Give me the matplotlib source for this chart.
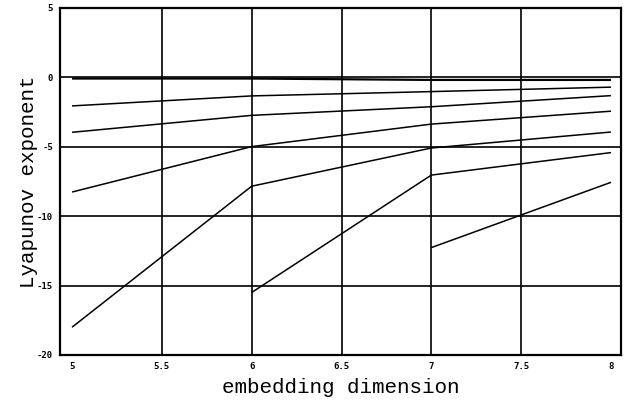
import numpy as np
import matplotlib
matplotlib.use("Agg")
import matplotlib.pyplot as plt

dims = [5, 6, 7, 8]
line_a = [-0.1, -0.1, -0.2, -0.2]
line_b = [-2.07, -1.35, -1.04, -0.72]
line_c = [-3.97, -2.75, -2.13, -1.33]
line_d = [-8.27, -5.0, -3.38, -2.45]
line_e = [-18.0, -7.85, -5.1, -3.95]
line_f = [np.nan, -15.5, -7.05, -5.43]
line_g = [np.nan, np.nan, -12.27, -7.57]
series = [line_a, line_b, line_c, line_d, line_e, line_f, line_g]

xticks = [5, 5.5, 6, 6.5, 7, 7.5, 8]
xticklabels = ["5", "5.5", "6", "6.5", "7", "7.5", "8"]
yticks = [-20, -15, -10, -5, 0, 5]
yticklabels = ["-20", "-15", "-10", "-5", "0", "5"]

fig = plt.figure(figsize=(6.35, 4.05), dpi=100)
ax = fig.add_axes([0.0945, 0.1235, 0.8835, 0.8575])

for i, s in enumerate(series):
    ax.plot(dims, s, color="black", lw=1.6 if i == 0 else 1.1, solid_capstyle="butt")

ax.set_xlim(4.933, 8.056)
ax.set_ylim(-20, 5)
ax.set_xticks(xticks)
ax.set_xticklabels(xticklabels)
ax.set_yticks(yticks)
ax.set_yticklabels(yticklabels)
ax.grid(True, color="black", lw=1.2)
ax.set_axisbelow(True)
xgl = ax.xaxis.get_gridlines()
xgl[0].set_visible(False)
xgl[-1].set_visible(False)
for sp in ax.spines.values():
    sp.set_linewidth(1.6)
ax.tick_params(axis="both", length=0, labelsize=6.5, pad=5)
for lab in ax.get_xticklabels() + ax.get_yticklabels():
    lab.set_fontfamily("DejaVu Sans Mono")
    lab.set_fontweight("bold")

ax.set_xlabel("embedding dimension", fontfamily="Liberation Mono", fontsize=15, labelpad=5)
ax.set_ylabel("Lyapunov exponent", fontfamily="Liberation Mono", fontsize=15, labelpad=-1)

fig.savefig("out.png", dpi=100)
